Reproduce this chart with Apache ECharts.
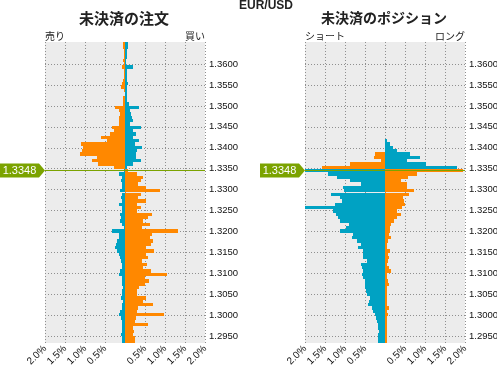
<!DOCTYPE html>
<html><head><meta charset="utf-8">
<script src="https://cdn.jsdelivr.net/npm/echarts@6/dist/echarts.min.js"></script>
<style>html,body{margin:0;padding:0;background:#fff}#c{width:497px;height:365px}</style>
</head><body><div id="c"></div>
<script>
const PAIR = 'EUR/USD';
const TITLE_ORDERS = '未決済の注文';
const TITLE_POSITIONS = '未決済のポジション';
const CURRENT_PRICE = 1.3348;
const BUCKET = 0.0008;
const Y_MIN = 1.2933, Y_MAX = 1.3653;
const Y_TICKS = [1.3600,1.3550,1.3500,1.3450,1.3400,1.3350,1.3300,1.3250,1.3200,1.3150,1.3100,1.3050,1.3000,1.2950];

// bucket centre prices, top to bottom
const PRICES = [
1.3649,1.3641,1.3633,1.3625,1.3617,1.3609,1.3601,1.3593,1.3585,1.3577,
1.3569,1.3561,1.3553,1.3545,1.3537,1.3529,1.3521,1.3513,1.3505,1.3497,
1.3489,1.3481,1.3473,1.3465,1.3457,1.3449,1.3441,1.3433,1.3425,1.3417,
1.3409,1.3401,1.3393,1.3385,1.3377,1.3369,1.3361,1.3353,1.3345,1.3337,
1.3329,1.3321,1.3313,1.3305,1.3297,1.3289,1.3281,1.3273,1.3265,1.3257,
1.3249,1.3241,1.3233,1.3225,1.3217,1.3209,1.3201,1.3193,1.3185,1.3177,
1.3169,1.3161,1.3153,1.3145,1.3137,1.3129,1.3121,1.3113,1.3105,1.3097,
1.3089,1.3081,1.3073,1.3065,1.3057,1.3049,1.3041,1.3033,1.3025,1.3017,
1.3009,1.3001,1.2993,1.2985,1.2977,1.2969,1.2961,1.2953,1.2945,1.2937];

// open orders (%), negative = sell side (left), positive = buy side (right)
const ORDERS_ORANGE = [
-0.05,-0.04,-0.03,-0.03,-0.03,-0.04,-0.03,-0.08,-0.03,-0.03,
-0.03,-0.05,-0.08,-0.1,-0.03,-0.01,-0.04,-0.06,-0.05,-0.25,
-0.15,-0.13,-0.15,-0.14,-0.15,-0.33,-0.28,-0.38,-0.6,-0.45,
-1.1,-1.05,-1.08,-1.13,-0.7,-0.83,-0.68,-0.28,0.08,0.3,
0.45,0.4,0.33,0.53,0.88,0.4,0.33,0.53,0.3,0.4,
0.3,0.68,0.58,0.45,0.63,0.43,1.33,0.68,0.63,0.7,
0.65,0.53,0.73,0.53,0.58,0.43,0.55,0.45,0.65,1.05,
0.5,0.6,0.5,0.35,0.3,0.3,0.53,0.45,0.7,0.33,
0.3,0.98,0.28,0.25,0.58,0.2,0.23,0.2,0.25,0.25];
const ORDERS_TEAL = [
0.08,0.08,0.05,0.04,0.04,0.03,0.03,0.2,0.05,0.05,
0.04,0.04,0.08,0.05,0.05,0.06,0.06,0.05,0.09,0.35,
0.13,0.15,0.18,0.2,0.13,0.4,0.2,0.28,0.2,0.35,
0.25,0.43,0.3,0.28,0.28,0.4,0.2,0.05,-0.03,-0.15,
-0.08,-0.1,-0.08,-0.08,-0.13,-0.08,-0.1,-0.08,-0.15,-0.08,
-0.08,-0.13,-0.1,-0.13,-0.08,-0.03,-0.33,-0.15,-0.15,-0.2,
-0.23,-0.25,-0.2,-0.15,-0.13,-0.1,-0.08,-0.08,-0.13,-0.15,
-0.08,-0.08,-0.08,-0.05,-0.08,-0.08,-0.1,-0.05,-0.08,-0.08,
-0.13,-0.15,-0.1,-0.08,-0.08,-0.08,-0.08,-0.1,-0.08,-0.08];

// open positions (%), negative = short (left), positive = long (right)
const POSITIONS_ORANGE = [
0,0,0,0,0,0,0,0,0,0,
0,0,0,0,0,0,0,0,0,0,
0,0,0,0,0,0,0,0,0,0,
0,0,0,-0.25,-0.28,-0.1,-0.88,-1.58,1.95,0.8,
0.58,0.4,0.55,0.55,0.73,0.6,0.45,0.48,0.5,0.43,
0.3,0.4,0.3,0.23,0.15,0.13,0.13,0.1,0.15,0.08,
0.06,0.05,0.13,0.08,0.1,0.08,0.06,0.1,0.15,0.05,
0.06,0.08,0.1,0.05,0.05,0.05,0.05,0.05,0.05,0.1,
0.05,0.08,0.05,0.05,0.05,0.05,0.06,0.05,0.05,0.05];
const POSITIONS_TEAL = [
0,0,0,0,0,0,0,0,0,0,
0,0,0,0,0,0,0,0,0,0,
0,0,0,0,0,0,0,0,0,0.05,
0.13,0.2,0.3,0.63,0.88,0.55,1.03,1.8,-2.0,-1.43,
-1.2,-0.88,-0.6,-1.05,-1.03,-1.35,-1.13,-1.08,-1.25,-2.0,
-1.3,-1.23,-1.18,-1.13,-0.9,-0.98,-1.13,-0.8,-0.83,-0.7,
-0.6,-0.68,-0.55,-0.55,-0.55,-0.45,-0.6,-0.58,-0.55,-0.58,
-0.55,-0.5,-0.5,-0.5,-0.48,-0.45,-0.38,-0.4,-0.43,-0.33,
-0.3,-0.25,-0.23,-0.2,-0.18,-0.18,-0.15,-0.18,-0.18,-0.18];

const ORANGE = '#ff8800', TEAL = '#00a2c3', GREEN = '#7ba300', GRID_BG = '#ececec', DOT = '#8f8f8f';
const FONT = '"Liberation Sans", Arial, sans-serif';
const JFONT = '"Noto Sans CJK JP", sans-serif';

function barRender(params, api) {
  const v = api.value(0), p = api.value(1);
  if (!v) return null;
  const a = api.coord([0, p + BUCKET / 2]);
  const b = api.coord([v, p - BUCKET / 2]);
  const x0 = Math.round(Math.min(a[0], b[0])), x1 = Math.round(Math.max(a[0], b[0]));
  const y0 = Math.round(a[1]), y1 = Math.round(b[1]);
  return { type: 'rect', shape: { x: x0, y: y0, width: Math.max(1, x1 - x0), height: y1 - y0 },
    style: { fill: api.visual('color') } };
}
function markerRender(params, api) {
  const p = api.value(1);
  const pt = api.coord([-2, p]);
  const end = api.coord([2, p]);
  const tx = pt[0], ty = Math.round(pt[1]) + 0.5;
  return { type: 'group', children: [
    { type: 'line', shape: { x1: tx, y1: ty, x2: end[0], y2: ty }, style: { stroke: GREEN, lineWidth: 1 } },
    { type: 'polygon', shape: { points: [[tx - 45, ty - 7], [tx - 6, ty - 7], [tx, ty], [tx - 6, ty + 7], [tx - 45, ty + 7]] },
      style: { fill: GREEN } },
    { type: 'text', x: tx - 25.5, y: ty, style: { text: CURRENT_PRICE.toFixed(4), fill: '#fff', font: '11px ' + FONT, align: 'center', verticalAlign: 'middle' } }
  ] };
}

function xAxis(i) {
  return { gridIndex: i, type: 'value', min: -2, max: 2, interval: 0.5,
    axisLine: { show: false }, axisTick: { show: false },
    splitLine: { show: true, lineStyle: { color: DOT, type: [1, 2], width: 1 } },
    axisLabel: { rotate: 45, margin: 4, fontSize: 10, color: '#111', fontFamily: FONT,
      formatter: v => v === 0 ? '' : Math.abs(v).toFixed(1) + '%' } };
}
function yAxis(i) {
  return { gridIndex: i, type: 'value', min: Y_MIN, max: Y_MAX, position: 'right',
    axisLine: { show: false },
    axisTick: { show: true, customValues: Y_TICKS, length: 3, lineStyle: { color: DOT, type: [1, 2] } },
    axisLabel: { customValues: Y_TICKS, margin: 4, fontSize: 9.5, color: '#111', fontFamily: FONT, formatter: v => v.toFixed(4) },
    splitLine: { show: true, lineStyle: { color: DOT, type: [1, 2], width: 1 } } };
}
function bars(i, vals, color) {
  return { type: 'custom', xAxisIndex: i, yAxisIndex: i, renderItem: barRender, clip: true,
    itemStyle: { color: color }, encode: { x: 0, y: 1 },
    data: PRICES.map((p, k) => [vals[k], p]) };
}
function marker(i) {
  return { type: 'custom', xAxisIndex: i, yAxisIndex: i, renderItem: markerRender, clip: false, z: 10,
    encode: { x: 0, y: 1 }, data: [[0, CURRENT_PRICE]] };
}
function txt(x, y, text, font, align) {
  return { type: 'text', x: x, y: y, style: { text: text, font: font, fill: '#222', align: align, verticalAlign: 'middle' } };
}

const chart = echarts.init(document.getElementById('c'), null, { renderer: 'canvas' });
chart.setOption({
  animation: false,
  grid: [
    { left: 45, top: 42, width: 160, height: 301, show: true, backgroundColor: GRID_BG, borderWidth: 0, containLabel: false, outerBoundsMode: 'none' },
    { left: 305, top: 42, width: 160, height: 301, show: true, backgroundColor: GRID_BG, borderWidth: 0, containLabel: false, outerBoundsMode: 'none' }
  ],
  xAxis: [xAxis(0), xAxis(1)],
  yAxis: [yAxis(0), yAxis(1)],
  series: [
    bars(0, ORDERS_ORANGE, ORANGE), bars(0, ORDERS_TEAL, TEAL),
    bars(1, POSITIONS_TEAL, TEAL), bars(1, POSITIONS_ORANGE, ORANGE),
    marker(0), marker(1)
  ],
  graphic: [
    txt(266, 6, PAIR, 'bold 12px ' + FONT, 'center'),
    txt(124, 18, TITLE_ORDERS, 'bold 15px ' + JFONT, 'center'),
    txt(384, 18, TITLE_POSITIONS, 'bold 14px ' + JFONT, 'center'),
    txt(45, 36, '売り', '10px ' + JFONT, 'left'),
    txt(205, 36, '買い', '10px ' + JFONT, 'right'),
    txt(305, 36, 'ショート', '10px ' + JFONT, 'left'),
    txt(465, 36, 'ロング', '10px ' + JFONT, 'right')
  ]
});
</script>
</body></html>
